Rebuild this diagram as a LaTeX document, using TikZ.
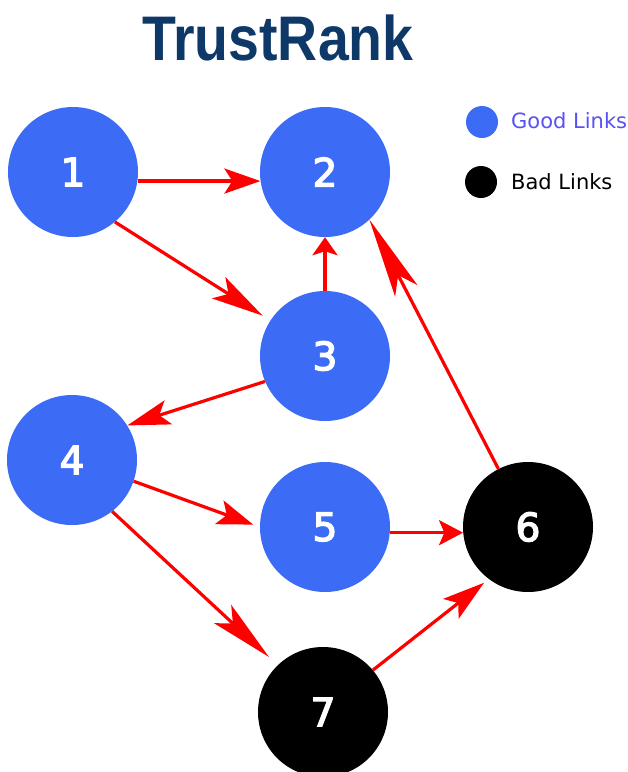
\documentclass[tikz,border=0pt]{standalone}
\usepackage{fontspec}
\newfontfamily\dvfont{DejaVu Sans}
\newfontfamily\dvsemi[FakeBold=3.5]{DejaVu Sans}
\newfontfamily\libfont{Liberation Sans}
\usetikzlibrary{arrows.meta}
\definecolor{goodblue}{RGB}{60,108,246}
\definecolor{legblue}{RGB}{88,82,245}
\definecolor{titlenavy}{RGB}{14,56,104}
\definecolor{arrred}{RGB}{255,0,0}
\tikzset{
  vert/.style={circle, minimum size=130pt, inner sep=0pt, text=white, font=\dvsemi\fontsize{39}{39}\selectfont},
  good/.style={vert, fill=goodblue},
  bad/.style={vert, fill=black},
  arr/.style={draw=arrred, line width=3.2pt, -{Stealth[length=#1, width=25pt, inset=0.22*#1]}},
  legdot/.style={circle, minimum size=32pt, inner sep=0pt},
  legtext/.style={anchor=base west, inner sep=0pt, font=\dvfont\fontsize{21}{21}\selectfont}
}
\begin{document}
\begin{tikzpicture}[x=1pt,y=-1pt]
\clip (0,0) rectangle (628,772);
\fill[white] (0,0) rectangle (628,772);
% title
\node[anchor=base, inner sep=0pt, text=titlenavy, font=\libfont\bfseries\fontsize{63}{63}\selectfont] (title) at (278,60) {\scalebox{0.88}[1]{TrustRank}};
% nodes
\node[good] (n1) at (73,172) {1};
\node[good] (n2) at (325,172) {2};
\node[good] (n3) at (325,356) {3};
\node[good] (n4) at (72,460) {4};
\node[good] (n5) at (325,527) {5};
\node[bad]  (n6) at (528,527) {6};
\node[bad]  (n7) at (323,712) {7};
% legend
\node[legdot, fill=goodblue] (lg) at (482,122) {};
\node[legdot, fill=black] (lb) at (481,182) {};
\node[legtext, text=legblue] (lgt) at (511,128) {Good Links};
\node[legtext, text=black] (lbt) at (511,189) {Bad Links};
% edges
\draw[arr=36pt] (n1.-8) -- (n2.188);
\draw[arr=52pt, shorten >=9pt] (n1.-50) -- (n3.147);
\draw[arr=18pt] (n3.north) -- (n2.south);
\draw[arr=80pt] (n6.117) -- (n2.-47);
\draw[arr=43pt] (n3.203) -- (n4.32);
\draw[arr=36pt, shorten >=7pt] (n4.-19) -- (n5.180);
\draw[arr=63pt, shorten >=12pt] (n4.-52) -- (n7.134);
\draw[arr=24pt] (n5.-5) -- (n6.185);
\draw[arr=42pt, shorten >=6pt] (n7.40) -- (n6.233);
\end{tikzpicture}
\end{document}
